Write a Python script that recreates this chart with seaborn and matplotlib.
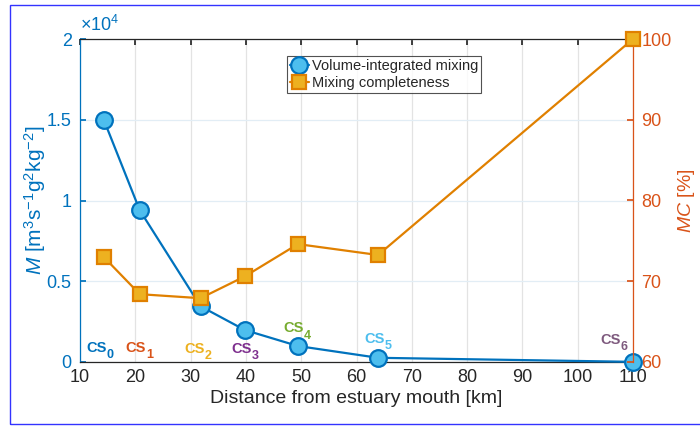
import numpy as np
import pandas as pd
import matplotlib
matplotlib.use("Agg")
import matplotlib.pyplot as plt
from matplotlib.patches import Rectangle
from matplotlib.ticker import FuncFormatter
import seaborn as sns

# Data
distance_km = [14.3, 20.8, 31.8, 39.8, 49.4, 63.9, 110.0]
mixing = [15000, 9400, 3450, 1980, 990, 260, 10]
completeness = [73.0, 68.4, 67.9, 70.6, 74.6, 73.25, 100.0]
section_names = ["0", "1", "2", "3", "4", "5", "6"]
section_label_x = [13.8, 20.85, 31.5, 40.0, 49.4, 64.1, 106.7]
section_label_y = [635, 635, 576, 576, 1837, 1195, 1115]
section_colors = ["#0072BD", "#D95319", "#EDB120", "#7E2F8E",
                  "#77AC30", "#4DBEEE", "#7E5A7E"]

df = pd.DataFrame({"dist": distance_km, "M": mixing, "MC": completeness})

sns.set_theme(style="white")
plt.rcParams["font.family"] = ["Liberation Sans", "DejaVu Sans"]
plt.rcParams["mathtext.fontset"] = "custom"
plt.rcParams["mathtext.rm"] = "Liberation Sans"
plt.rcParams["mathtext.it"] = "Liberation Sans:italic"
plt.rcParams["mathtext.bf"] = "Liberation Sans:bold"

blue = "#0072BD"
orange_axis = "#D95319"
orange_line = "#E08000"
dark = "#262626"

fig = plt.figure(figsize=(7.0, 4.26), dpi=100)
ax = fig.add_axes([80 / 700, 64 / 426, 553 / 700, 323 / 426])
ax2 = ax.twinx()

sns.lineplot(data=df, x="dist", y="M", ax=ax, color=blue, lw=1.6,
             marker="o", markersize=12, markerfacecolor="#4DBEEE",
             markeredgecolor=blue, markeredgewidth=1.6, clip_on=False,
             label="Volume-integrated mixing", legend=False, zorder=3)
sns.lineplot(data=df, x="dist", y="MC", ax=ax2, color=orange_line, lw=1.6,
             marker="s", markersize=10, markerfacecolor="#EDB120",
             markeredgecolor=orange_line, markeredgewidth=1.6, clip_on=False,
             label="Mixing completeness", legend=False, zorder=3)

# cross-section labels: "CS" plus a larger-than-mathtext subscript
for xk, yk, name, c in zip(section_label_x, section_label_y, section_names, section_colors):
    t = ax.text(xk + 1.0, yk, "CS", color=c, fontsize=10.5, fontweight="bold",
                ha="right", va="baseline", zorder=4)
    ax.annotate(name, xy=(1, 0), xycoords=t, xytext=(0.2, -2.5),
                textcoords="offset points", color=c, fontsize=9,
                fontweight="bold", ha="left", va="baseline", zorder=4)

ax.set_xlim(10, 110)
ax.set_ylim(0, 20000)
ax2.set_ylim(60, 100)
ax.set_xticks(np.arange(10, 111, 10))
ax.set_yticks([0, 5000, 10000, 15000, 20000])
ax2.set_yticks([60, 70, 80, 90, 100])
ax.yaxis.set_major_formatter(FuncFormatter(lambda v, p: "%g" % (v / 1e4)))
ax.text(0.0, 1.012, r"$\times10^4$", transform=ax.transAxes, color=blue,
        fontsize=13, ha="left", va="bottom")

ax.grid(True, axis="x", color="#E3E3E3", lw=0.9)
ax.grid(True, axis="y", color="#E2EDF5", lw=0.9)
ax.set_axisbelow(True)

ax.tick_params(axis="x", direction="in", top=True, length=4, colors=dark,
               labelsize=13, pad=5)
ax.tick_params(axis="y", direction="in", length=4, colors=blue,
               labelsize=13, pad=6)
ax2.tick_params(axis="y", direction="in", length=4, colors=orange_axis,
                labelsize=13, pad=6)

for side in ["top", "bottom"]:
    ax.spines[side].set_color(dark)
    ax2.spines[side].set_visible(False)
ax.spines["left"].set_color(blue)
ax.spines["right"].set_visible(False)
ax2.spines["left"].set_visible(False)
ax2.spines["right"].set_color(orange_axis)
for s in ax.spines.values():
    s.set_linewidth(0.9)
ax2.spines["right"].set_linewidth(0.9)

ax.set_xlabel("Distance from estuary mouth [km]", fontsize=14, color=dark,
              labelpad=3)
ax.set_ylabel(r"$M$ [m$^3$s$^{-1}$g$^2$kg$^{-2}$]", fontsize=15,
              color=blue, labelpad=-1)
ax2.set_ylabel(r"$MC$ [%]", fontsize=14, color=orange_axis, labelpad=3)

h1, l1 = ax.get_legend_handles_labels()
h2, l2 = ax2.get_legend_handles_labels()
leg = ax2.legend(h1 + h2, l1 + l2, loc="upper left",
                 bbox_to_anchor=(0.374, 0.947), borderaxespad=0,
                 fontsize=10.5, frameon=True, fancybox=False,
                 handlelength=1.3, handletextpad=0.2, borderpad=0.2,
                 labelspacing=0.2)
leg.get_frame().set_edgecolor(dark)
leg.get_frame().set_linewidth(0.8)

fig.patches.append(Rectangle((10 / 700, 2 / 426), 1.2, 419 / 426,
                             transform=fig.transFigure, fill=False,
                             edgecolor="#3333FF", lw=1.0))

fig.savefig("out.png", dpi=100)
